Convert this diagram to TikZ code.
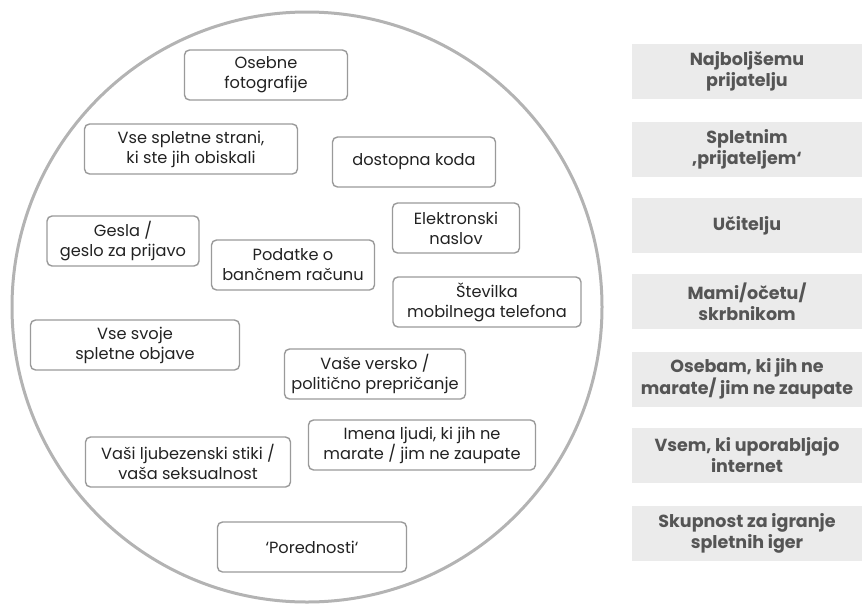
\documentclass[tikz,border=0pt]{standalone}
\usepackage{fontspec}
\setmainfont{Poppins}
\definecolor{ring}{HTML}{B3B3B3}
\definecolor{boxline}{HTML}{9A9A9A}
\definecolor{panel}{HTML}{EBEBEB}
\definecolor{paneltext}{HTML}{555555}
\definecolor{itemtext}{HTML}{222222}
\begin{document}
\begin{tikzpicture}[x=1pt,y=-1pt,
  item/.style={draw=boxline, line width=1.4pt, rounded corners=5pt, fill=white,
    align=center, inner sep=0pt, minimum height=50pt, text=itemtext,
    font=\fontsize{16.2}{20}\selectfont},
  target/.style={fill=panel, align=center, inner sep=0pt, minimum width=230pt,
    minimum height=55pt, text=paneltext, font=\fontsize{17.5}{21}\selectfont\bfseries}]
\useasboundingbox (0,0) rectangle (862,603);
\node[circle, draw=ring, line width=3pt, minimum size=590pt, inner sep=0pt] (ring) at (307,307) {};
\node[item, minimum width=163pt] (n1) at (266,75) {Osebne\\fotografije};
\node[item, minimum width=213pt] (n2) at (191,149) {Vse spletne strani,\\ki ste jih obiskali};
\node[item, minimum width=163pt] (n3) at (414,162) {dostopna koda};
\node[item, minimum width=152pt] (n4) at (123,241) {Gesla /\\geslo za prijavo};
\node[item, minimum width=163pt] (n5) at (293,265) {Podatke o\\bančnem računu};
\node[item, minimum width=127pt] (n6) at (456,228) {Elektronski\\naslov};
\node[item, minimum width=188pt] (n7) at (487,302) {Številka\\mobilnega telefona};
\node[item, minimum width=209pt] (n8) at (135,345) {Vse svoje\\spletne objave};
\node[item, minimum width=181pt] (n9) at (375,374) {Vaše versko /\\politično prepričanje};
\node[item, minimum width=205pt] (n10) at (188,462) {Vaši ljubezenski stiki /\\vaša seksualnost};
\node[item, minimum width=227pt] (n11) at (422,445) {Imena ljudi, ki jih ne\\marate / jim ne zaupate};
\node[item, minimum width=189pt] (n12) at (312,547) {‘Porednosti‘};
\node[target] (t1) at (747,71.5) {Najboljšemu\\prijatelju};
\node[target] (t2) at (747,149) {Spletnim\\‚prijateljem‘};
\node[target] (t3) at (747,225.5) {Učitelju};
\node[target] (t4) at (747,301.5) {Mami/očetu/\\skrbnikom};
\node[target] (t5) at (747,379) {Osebam, ki jih ne\\marate/ jim ne zaupate};
\node[target] (t6) at (747,455.5) {Vsem, ki uporabljajo\\internet};
\node[target] (t7) at (747,533) {Skupnost za igranje\\spletnih iger};
\end{tikzpicture}
\end{document}
